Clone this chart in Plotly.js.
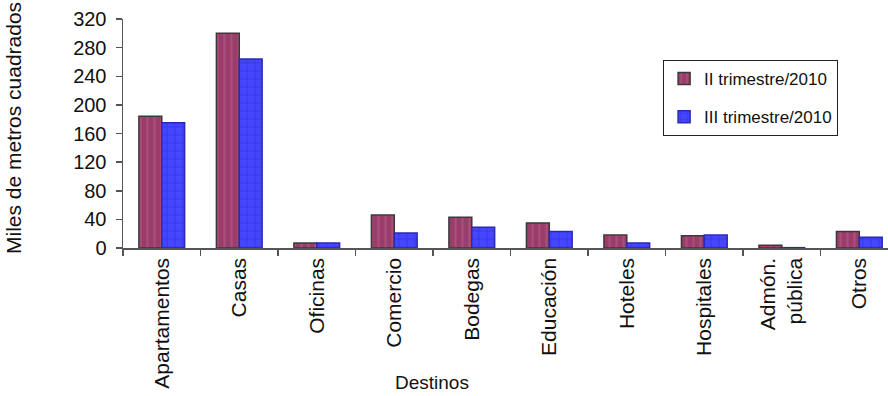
<!DOCTYPE html>
<html>
<head>
<meta charset="utf-8">
<script src="https://cdn.plot.ly/plotly-3.0.1.min.js"></script>
<style>html,body{margin:0;padding:0;background:#fff;}#chart{width:888px;height:396px;}</style>
</head>
<body>
<div id="chart"></div>
<script>
const categories = ["Apartamentos", "Casas", "Oficinas", "Comercio", "Bodegas", "Educación", "Hoteles", "Hospitales", "Admón.<br>pública", "Otros"];
const seriesNames = ["II trimestre/2010", "III trimestre/2010"];
const trimestreII = [184, 300, 7, 46, 43, 35, 18, 17, 4, 23];
const trimestreIII = [175, 264, 7, 21, 29, 23, 7, 18, 0.5, 15];
const yTicks = [0, 40, 80, 120, 160, 200, 240, 280, 320];

const font = "Liberation Sans, Arial, sans-serif";

const traces = [
  {
    type: "bar", x: categories, y: trimestreII, name: seriesNames[0], legendgroup: "a",
    marker: {color: "#9c3c6a", line: {color: "#3a3a3a", width: 1.5},
      pattern: {shape: "|", fillmode: "overlay", bgcolor: "#9c3c6a", fgcolor: "#b4648c", size: 7, solidity: 0.3}}
  },
  {
    type: "bar", x: categories, y: trimestreIII, name: seriesNames[1], legendgroup: "b",
    marker: {color: "#4646ff", line: {color: "#2a2ab0", width: 1.5},
      pattern: {shape: "+", fillmode: "overlay", bgcolor: "#4646ff", fgcolor: "#1a1ac4", size: 8, solidity: 0.15}}
  }
];

const layout = {
  width: 888, height: 396,
  margin: {l: 123, r: 0, t: 19, b: 148},
  paper_bgcolor: "#fff", plot_bgcolor: "#fff",
  font: {family: font, size: 20, color: "#111"},
  barmode: "group", bargap: 0.41, bargroupgap: 0,
  showlegend: true,
  legend: {
    x: 0.706, y: 0.821, xanchor: "left", yanchor: "top",
    bordercolor: "#222", borderwidth: 1, bgcolor: "#fff",
    font: {family: "Liberation Sans Narrow, Liberation Sans, Arial, sans-serif", size: 17, color: "#111"},
    tracegroupgap: 13, traceorder: "grouped"
  },
  xaxis: {
    type: "category", range: [-0.5, 9.37], automargin: false,
    showline: true, linecolor: "#555", linewidth: 1.5,
    ticks: "outside", tickson: "boundaries", ticklen: 6, tickcolor: "#555", tickwidth: 1.5,
    tickangle: -90, showgrid: false, zeroline: false,
    tickfont: {family: font, size: 21, color: "#111"}
  },
  yaxis: {
    range: [0, 320], tickvals: yTicks, ticktext: yTicks.map(String), automargin: false,
    showline: true, linecolor: "#555", linewidth: 1.5,
    ticks: "outside", ticklen: 6, tickcolor: "#555", tickwidth: 1.5, ticklabelstandoff: 5,
    showgrid: false, zeroline: false,
    tickfont: {family: font, size: 20, color: "#111"}
  },
  annotations: [
    {text: "Miles de metros cuadrados", xref: "paper", yref: "paper", x: -0.1438, y: 0.524,
     xanchor: "center", yanchor: "middle", textangle: -90,
     showarrow: false, font: {family: font, size: 21, color: "#111"}},
    {text: "Destinos", xref: "paper", yref: "paper", x: 0.404, y: -0.5895, xanchor: "center", yanchor: "middle",
     showarrow: false, font: {family: font, size: 19, color: "#111"}}
  ]
};

Plotly.newPlot("chart", traces, layout, {displayModeBar: false, staticPlot: true});
</script>
</body>
</html>
